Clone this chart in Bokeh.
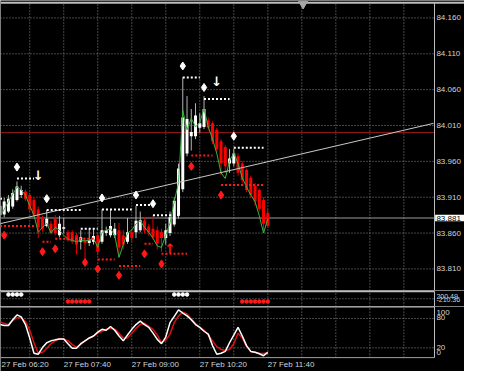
from bokeh.plotting import figure
from bokeh.layouts import column
from bokeh.models import Range1d, ColumnDataSource
from bokeh.core.properties import value
from bokeh.embed import file_html
from bokeh.resources import INLINE

# ---------------- data ----------------
bars = list(range(1, 65))
opens = [83.885, 83.886, 83.890, 83.897, 83.906, 83.913, 83.918, 83.913, 83.906, 83.893,
         83.881, 83.870, 83.873, 83.880, 83.857, 83.866, 83.861, 83.861, 83.857, 83.848,
         83.850, 83.846, 83.848, 83.857, 83.848, 83.860, 83.857, 83.857, 83.864, 83.857,
         83.848, 83.861, 83.861, 83.864, 83.877, 83.869, 83.866, 83.864, 83.861, 83.853,
         83.860, 83.872, 83.884, 83.921, 83.971, 83.995, 83.995, 84.007, 84.008, 84.017,
         84.013, 84.004, 83.988, 83.980, 83.957, 83.957, 83.967, 83.957, 83.948, 83.937,
         83.926, 83.920, 83.906, 83.888]
highs = [83.904, 83.909, 83.913, 83.921, 83.932, 83.926, 83.921, 83.916, 83.909, 83.897,
         83.884, 83.892, 83.877, 83.885, 83.884, 83.881, 83.864, 83.864, 83.860, 83.864,
         83.854, 83.866, 83.866, 83.860, 83.893, 83.869, 83.893, 83.874, 83.874, 83.864,
         83.881, 83.866, 83.898, 83.890, 83.882, 83.873, 83.885, 83.869, 83.866, 83.873,
         83.890, 83.910, 83.957, 84.077, 84.051, 84.033, 84.041, 84.027, 84.051, 84.021,
         84.016, 84.007, 83.991, 83.983, 83.977, 83.977, 83.971, 83.960, 83.950, 83.940,
         83.930, 83.922, 83.910, 83.893]
lows = [83.881, 83.882, 83.888, 83.894, 83.904, 83.909, 83.905, 83.890, 83.882, 83.853,
        83.862, 83.868, 83.858, 83.857, 83.854, 83.860, 83.848, 83.845, 83.830, 83.837,
        83.821, 83.842, 83.844, 83.829, 83.845, 83.856, 83.854, 83.853, 83.828, 83.837,
        83.845, 83.848, 83.853, 83.861, 83.860, 83.856, 83.851, 83.837, 83.834, 83.844,
        83.856, 83.869, 83.880, 83.917, 83.967, 83.975, 83.991, 84.000, 84.005, 84.003,
        83.984, 83.973, 83.941, 83.944, 83.944, 83.953, 83.940, 83.930, 83.917, 83.909,
        83.898, 83.890, 83.860, 83.868]
closes = [83.898, 83.904, 83.908, 83.916, 83.925, 83.920, 83.908, 83.893, 83.886, 83.868,
          83.866, 83.880, 83.861, 83.860, 83.873, 83.868, 83.850, 83.848, 83.844, 83.854,
          83.846, 83.850, 83.856, 83.834, 83.864, 83.864, 83.870, 83.866, 83.840, 83.844,
          83.861, 83.853, 83.877, 83.878, 83.864, 83.861, 83.854, 83.845, 83.853, 83.864,
          83.882, 83.905, 83.950, 84.021, 84.019, 84.001, 84.024, 84.013, 84.033, 84.007,
          83.988, 83.977, 83.957, 83.953, 83.964, 83.971, 83.944, 83.934, 83.920, 83.913,
          83.904, 83.894, 83.873, 83.870]
ma_line = [83.884, 83.893, 83.904, 83.914, 83.924, 83.920, 83.913, 83.898, 83.885, 83.861,
           83.868, 83.874, 83.860, 83.868, 83.864, 83.857, 83.851, 83.850, 83.848, 83.850,
           83.849, 83.850, 83.853, 83.840, 83.861, 83.864, 83.866, 83.857, 83.826, 83.844,
           83.860, 83.864, 83.873, 83.877, 83.868, 83.861, 83.853, 83.842, 83.840, 83.857,
           83.874, 83.904, 83.930, 84.031, 84.004, 84.020, 84.008, 84.014, 84.033, 84.008,
           83.991, 83.971, 83.944, 83.936, 83.961, 83.971, 83.957, 83.937, 83.924, 83.913,
           83.904, 83.884, 83.860, 83.880]
stoch_main = [67.6, 65.7, 65.7, 77.5, 87.3, 83.3, 67.6, 40.2, 8.8, 6.9,
              20.6, 30.4, 34.3, 36.3, 38.2, 38.2, 28.4, 19.2, 19.2, 28.4,
              34.3, 40.2, 44.1, 52.0, 57.8, 55.9, 63.7, 55.9, 44.1, 34.3,
              46.1, 57.8, 67.6, 74.5, 67.6, 61.8, 50.0, 37.3, 28.4, 42.0,
              71.6, 84.3, 97.6, 91.2, 85.3, 77.5, 67.6, 61.8, 53.9, 48.0,
              24.5, 6.9, 8.8, 12.7, 30.4, 46.1, 61.8, 44.1, 24.5, 12.7,
              10.8, 7.8, 3.9, 10.8]
stoch_signal = [73.5, 69.6, 67.6, 75.5, 81.4, 81.4, 73.5, 55.9, 30.4, 8.8,
                10.8, 18.6, 28.4, 34.3, 38.2, 38.2, 34.3, 26.5, 21.6, 26.5,
                34.3, 39.2, 44.1, 50.0, 53.9, 57.8, 59.8, 57.8, 50.0, 40.2,
                40.2, 50.0, 59.8, 67.6, 70.2, 63.7, 57.8, 46.1, 31.0, 35.3,
                48.0, 71.6, 85.3, 93.1, 89.2, 79.4, 69.6, 61.8, 55.9, 46.1,
                34.3, 22.5, 16.7, 14.7, 16.7, 28.4, 50.0, 40.2, 22.5, 12.7,
                10.8, 8.8, 8.2, 10.2]

time_tick_bars = [0, 16, 32, 48, 64]
time_tick_labels = ["27 Feb 06:20", "27 Feb 07:40", "27 Feb 09:00", "27 Feb 10:20", "27 Feb 11:40"]
grid_bars = [8, 16, 24, 32, 40, 48, 56, 64, 72, 80, 88, 96]
price_ticks = [83.810, 83.860, 83.910, 83.960, 84.010, 84.060, 84.110, 84.160]
price_tick_labels = ["83.810", "83.860", "83.910", "83.960", "84.010", "84.060", "84.110", "84.160"]
bid_price = 83.881
bid_label = "83.881"
level_price = 84.000
trend_bars = [1, 103]
trend_prices = [83.873, 84.013]

up_fractal_bars = [5, 12, 25, 33, 37, 44, 49, 56]
up_fractal_prices = [83.952, 83.908, 83.909, 83.913, 83.901, 84.093, 84.063, 83.995]
down_fractal_bars = [2, 11, 14, 21, 24, 29, 35, 39, 46, 53]
down_fractal_prices = [83.857, 83.834, 83.838, 83.819, 83.810, 83.801, 83.831, 83.817, 83.953, 83.913]

res_start = [1, 5, 12, 20, 25, 33, 37, 44, 49, 56]
res_end = [2, 9, 20, 24, 32, 37, 43, 48, 55, 63]
res_price = [83.908, 83.936, 83.892, 83.866, 83.893, 83.899, 83.885, 84.077, 84.047, 83.979]
sup_start = [1, 11, 14, 24, 29, 35, 39, 46, 53]
sup_end = [9, 13, 23, 28, 34, 37, 45, 51, 63]
sup_price = [83.870, 83.848, 83.852, 83.823, 83.814, 83.845, 83.831, 83.968, 83.927]

sell_arrow_bars = [10, 52]
sell_arrow_prices = [83.940, 84.072]
buy_arrow_bars = [41]
buy_arrow_prices = [83.838]

sig_up_bars = [3, 4, 5, 6, 42, 43, 44, 45]
sig_down_bars = [17, 18, 19, 20, 21, 22, 58, 59, 60, 61, 62, 63, 64]
sig_up_value = 113
sig_down_value = -74
panel2_labels = ["200.49", "-210.36"]
panel2_label_values = [61.8, -22.9]
stoch_levels = [20, 80]
stoch_labels = ["100", "80", "20", "0"]
stoch_label_values = [92.5, 81.8, 21.5, 10.2]
shift_marker_bar = 72.3

# ---------------- layout constants ----------------
W = 464
X0 = 1.127
EDGE = 103.21
PX_PER_BAR = 434 / (EDGE - X0)
X1 = X0 + W / PX_PER_BAR
LABEL_X = EDGE + 0.45
FIRST_LABEL_X = X0 + 0.25
P1 = (83.7799, 84.1843)
P2 = (-207.79, 221.03)
P3 = (-28.4, 104.5)
FONT = value("Liberation Sans")
LBL = "#d4d4d4"
GRID = dict(line_color="#8a8a8a", line_width=1, line_dash="1 2")
BORDER = "#bdbdbd"


def make_fig(h, yr):
    f = figure(width=W, height=h, x_range=Range1d(X0, X1), y_range=Range1d(*yr),
               x_axis_type=None, y_axis_type=None, toolbar_location=None,
               output_backend="svg", min_border=0, outline_line_color=None,
               background_fill_color="black", border_fill_color="black")
    return f


# ---------------- main price panel ----------------
p1 = make_fig(290, P1)
top_border = 84.181
n = len(price_ticks)
p1.segment(x0=[X0] * n, x1=[EDGE] * n, y0=price_ticks, y1=price_ticks, **GRID)
p1.segment(x0=grid_bars, x1=grid_bars, y0=[P1[0]] * len(grid_bars), y1=[top_border] * len(grid_bars), **GRID)
p1.segment(x0=[X0], x1=[EDGE], y0=[bid_price], y1=[bid_price], line_color="#9c9c9c", line_width=1)
p1.segment(x0=[X0], x1=[EDGE], y0=[level_price], y1=[level_price], line_color="#a01c1c", line_width=1)

inc = [c >= o for o, c in zip(opens, closes)]
src = ColumnDataSource(dict(
    x=bars, h=highs, l=lows,
    top=[max(o, c) for o, c in zip(opens, closes)],
    bot=[min(o, c) for o, c in zip(opens, closes)],
    bc=["#ffffff" if u else "#ff0000" for u in inc],
    wc=["#b4b4b4" if u else "#e00000" for u in inc],
))
p1.segment(x0="x", x1="x", y0="l", y1="h", line_color="wc", line_width=1, source=src)
p1.vbar(x="x", width=0.7, top="top", bottom="bot", fill_color="bc", line_color=None, source=src)

p1.line(bars, ma_line, line_color="#3cb043", line_width=1)
p1.line(trend_bars, trend_prices, line_color="#c8c8c8", line_width=1)

p1.segment(x0=res_start, x1=res_end, y0=res_price, y1=res_price,
           line_color="white", line_width=2, line_dash="2 2")
p1.segment(x0=sup_start, x1=sup_end, y0=sup_price, y1=sup_price,
           line_color="#ff1a1a", line_width=2, line_dash="2 2")

p1.scatter(up_fractal_bars, up_fractal_prices, marker="diamond", size=8, color="white")
p1.scatter(down_fractal_bars, down_fractal_prices, marker="diamond", size=8, color="#ff1a1a")

p1.text(x=sell_arrow_bars, y=sell_arrow_prices, text=["\u2193"] * len(sell_arrow_bars),
        text_color="white", text_font=value("DejaVu Sans"), text_font_style="bold",
        text_font_size="13px", text_align="center", text_baseline="middle")
p1.text(x=buy_arrow_bars, y=buy_arrow_prices, text=["\u2191"] * len(buy_arrow_bars),
        text_color="#ff1a1a", text_font=value("DejaVu Sans"), text_font_style="bold",
        text_font_size="13px", text_align="center", text_baseline="middle")

# borders
p1.segment(x0=[X0], x1=[X1], y0=[top_border], y1=[top_border], line_color=BORDER, line_width=2)
p1.segment(x0=[EDGE], x1=[EDGE], y0=[P1[0]], y1=[top_border], line_color=BORDER, line_width=1)
p1.scatter([shift_marker_bar], [84.1797], marker="inverted_triangle", size=9, color="#a8a8a8")

# price labels
p1.text(x=[LABEL_X] * n, y=price_ticks, text=price_tick_labels, text_color=LBL,
        text_font=FONT, text_font_size="8px", text_align="left", text_baseline="middle")
p1.quad(left=[EDGE + 0.15], right=[X1], top=[bid_price + 0.0046], bottom=[bid_price - 0.0046],
        fill_color="white", line_color=None)
p1.text(x=[LABEL_X], y=[bid_price], text=[bid_label], text_color="black",
        text_font=FONT, text_font_size="8px", text_align="left", text_baseline="middle")

# ---------------- signal dots panel ----------------
p2 = make_fig(16, P2)
p2.segment(x0=[X0], x1=[EDGE], y0=[0], y1=[0], **GRID)
p2.segment(x0=grid_bars, x1=grid_bars, y0=[P2[0]] * len(grid_bars), y1=[200.49] * len(grid_bars), **GRID)
p2.segment(x0=[X0], x1=[EDGE], y0=[200.49], y1=[200.49], line_color=BORDER, line_width=2)
p2.segment(x0=[EDGE], x1=[EDGE], y0=[P2[0]], y1=[200.49], line_color=BORDER, line_width=1)
p2.scatter(sig_up_bars, [sig_up_value] * len(sig_up_bars), marker="circle", size=3.6,
           color="white")
p2.scatter(sig_down_bars, [sig_down_value] * len(sig_down_bars), marker="circle", size=3.6,
           color="#ff1a1a")
p2.text(x=[LABEL_X] * 2, y=panel2_label_values, text=panel2_labels, text_color=LBL,
        text_font=FONT, text_font_size="7px", text_align="left", text_baseline="middle")

# ---------------- stochastic panel ----------------
p3 = make_fig(65, P3)
p3.segment(x0=[X0] * 2, x1=[EDGE] * 2, y0=stoch_levels, y1=stoch_levels, **GRID)
p3.segment(x0=grid_bars, x1=grid_bars, y0=[0] * len(grid_bars), y1=[104.3] * len(grid_bars), **GRID)
p3.segment(x0=[X0], x1=[EDGE], y0=[104.3], y1=[104.3], line_color=BORDER, line_width=2)
p3.segment(x0=[X0], x1=[EDGE], y0=[0], y1=[0], line_color="#a0a0a0", line_width=1)
p3.segment(x0=[EDGE], x1=[EDGE], y0=[0], y1=[104.3], line_color=BORDER, line_width=1)
p3.line(bars, stoch_signal, line_color="#e01010", line_width=1.5)
p3.line(bars, stoch_main, line_color="white", line_width=1.5)
p3.text(x=[LABEL_X] * len(stoch_labels), y=stoch_label_values, text=stoch_labels,
        text_color=LBL, text_font=FONT, text_font_size="8px", text_align="left",
        text_baseline="middle")
label_x = [max(b, FIRST_LABEL_X) for b in time_tick_bars]
p3.text(x=label_x, y=[-14.7] * len(time_tick_bars), text=time_tick_labels,
        text_color=LBL, text_font=FONT, text_font_size="8px", text_align="left",
        text_baseline="middle")

layout = column(p1, p2, p3, spacing=0)
open("out.html", "w").write(file_html(layout, INLINE))
